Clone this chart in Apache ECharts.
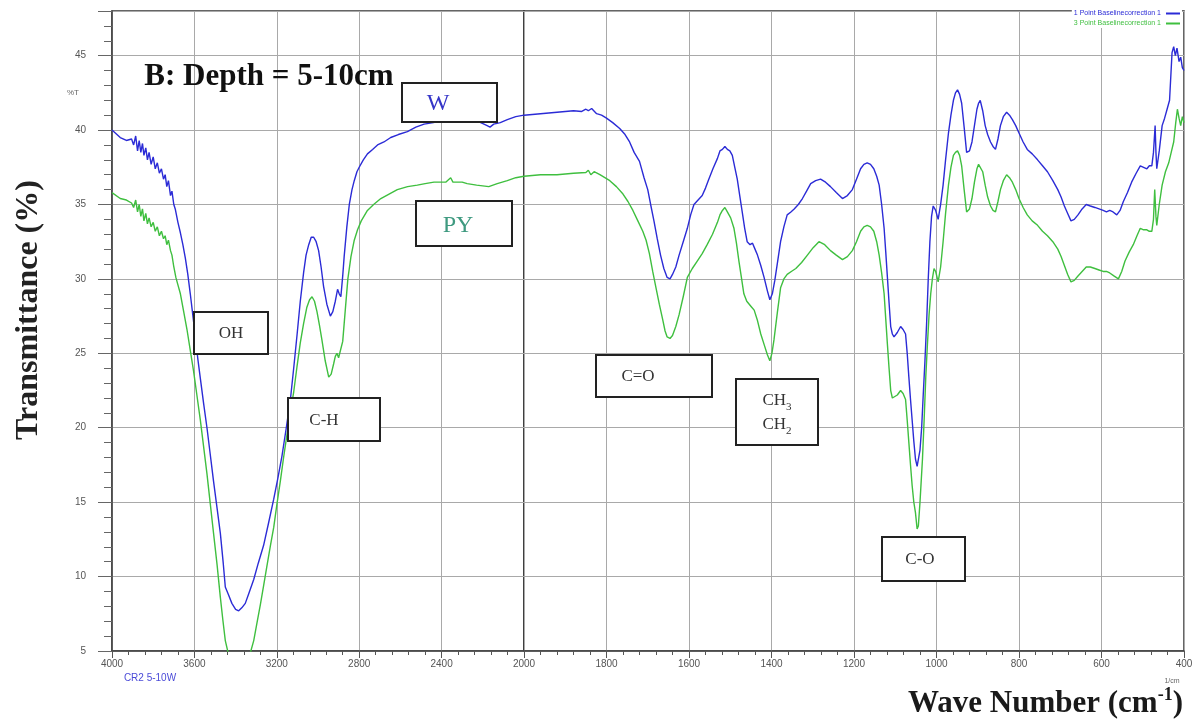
<!DOCTYPE html>
<html>
<head>
<meta charset="utf-8">
<script src="https://cdn.jsdelivr.net/npm/echarts@6/dist/echarts.min.js"></script>
<style>
html, body { margin: 0; padding: 0; background: #fff; }
#chart { width: 1192px; height: 723px; }
</style>
</head>
<body>
<div id="chart"></div>
<script>
// FTIR spectra, depth 5-10 cm: W (blue) and PY (green), transmittance in %.
// Wavenumbers in cm-1, listed from high to low.
const wWave = [4000,3960,3930,3905,3895,3885,3876,3868,3860,3852,3845,3836,3828,3820,3810,3800,3790,3780,3770,3760,3750,3742,3734,3726,3716,3709,3700,3693,3680,3668,3656,3644,3632,3620,3608,3596,3584,3571,3555,3539,3523,3507,3490,3474,3460,3450,3435,3418,3400,3385,3370,3353,3335,3312,3290,3264,3240,3215,3195,3175,3155,3134,3118,3102,3086,3070,3058,3045,3033,3021,3009,2997,2985,2973,2957,2940,2928,2916,2905,2897,2889,2880,2873,2860,2848,2835,2824,2811,2800,2780,2760,2735,2711,2680,2647,2610,2566,2525,2485,2440,2405,2360,2324,2280,2243,2210,2179,2165,2147,2115,2081,2040,2000,
  1960,1920,1880,1860,1850,1844,1836,1824,1812,1800,1785,1768,1755,1744,1733,1720,1709,1700,1693,1685,1677,1669,1661,1653,1646,1640,1632,1624,1614,1604,1596,1588,1578,1568,1560,1552,1542,1531,1525,1519,1513,1507,1501,1495,1489,1483,1477,1471,1465,1459,1452,1446,1440,1434,1426,1418,1410,1404,1398,1392,1385,1378,1370,1362,1353,1345,1335,1325,1315,1305,1293,1281,1269,1257,1243,1228,1216,1204,1194,1184,1176,1168,1160,1152,1145,1139,1133,1127,1123,1119,1115,1111,1107,1103,1095,1087,1081,1075,1071,1067,1063,1059,1055,1051,1047,1044,1040,1036,1032,1028,1024,1020,1016,1012,1008,1002,996,990,984,978,971,965,959,954,949,944,939,933,927,920,914,908,902,898,894,888,882,876,869,863,857,851,845,838,830,823,816,808,800,790,780,768,755,743,731,718,706,698,690,682,674,666,657,647,637,627,616,606,596,588,580,572,563,555,547,537,527,516,506,498,490,484,478,474,470,468,466,460,453,447,441,435,429,425,421,417,412,408,404,400];
const wT = [40.0,39.5,39.3,39.4,39.0,39.6,38.6,39.3,38.5,39.1,38.3,38.8,38.0,38.5,37.7,38.2,37.4,37.8,37.1,37.4,36.7,37.0,36.2,36.6,35.6,35.9,35.0,34.7,33.8,33.1,32.3,31.4,30.3,29.0,27.6,26.2,24.7,23.3,21.6,20.0,18.2,16.4,14.6,12.9,10.9,9.3,8.8,8.2,7.8,7.7,7.9,8.2,8.9,9.8,10.9,12.1,13.6,15.2,16.6,18.1,19.9,21.9,24.0,26.2,28.5,30.4,31.6,32.3,32.8,32.8,32.5,31.9,30.8,29.5,28.3,27.5,27.8,28.5,29.3,29.0,28.8,30.2,31.5,33.5,35.0,36.0,36.6,37.2,37.5,38.0,38.4,38.7,39.0,39.2,39.5,39.7,39.9,40.2,40.4,40.5,40.6,40.7,40.7,40.7,40.6,40.5,40.3,40.2,40.4,40.5,40.7,40.9,41.0,
  41.1,41.2,41.3,41.25,41.4,41.3,41.45,41.1,41.0,40.8,40.5,40.1,39.7,39.2,38.5,37.9,36.8,36.0,35.0,33.9,32.7,31.6,30.7,30.1,30.0,30.3,30.8,31.6,32.5,33.4,34.3,35.0,35.3,35.6,36.1,36.7,37.4,38.1,38.6,38.7,38.9,38.7,38.6,38.3,37.5,36.7,35.6,34.5,33.4,32.5,32.3,32.4,32.0,31.6,30.9,30.1,29.2,28.6,29.0,29.9,31.2,32.5,33.5,34.3,34.5,34.7,35.0,35.4,35.9,36.4,36.6,36.7,36.5,36.2,35.8,35.4,35.6,36.0,36.7,37.4,37.7,37.8,37.7,37.4,36.9,36.3,35.0,33.4,31.8,30.1,28.4,26.8,26.3,26.1,26.4,26.8,26.6,26.3,25.0,23.4,21.9,20.5,19.1,17.9,17.4,17.5,18.5,20.0,22.3,24.5,27.0,30.0,32.5,34.2,34.9,34.6,34.0,35.0,36.3,38.0,39.8,41.0,42.0,42.5,42.7,42.4,41.8,40.2,38.5,38.6,39.2,40.3,41.4,41.8,42.0,41.3,40.3,39.7,39.2,38.9,38.7,39.4,40.3,40.9,41.2,41.0,40.7,40.3,39.8,39.2,38.7,38.4,38.0,37.6,37.2,36.6,36.0,35.5,34.9,34.4,33.9,34.0,34.3,34.7,35.0,34.9,34.8,34.7,34.6,34.5,34.6,34.5,34.3,34.6,35.2,35.8,36.5,37.1,37.6,37.5,37.4,37.6,37.6,38.5,40.3,38.5,37.4,38.6,40.3,40.8,41.4,42.0,45.2,45.6,45.0,45.5,44.6,44.9,44.2,44.0];

const pyWave = [4000,3960,3930,3905,3895,3885,3876,3868,3860,3852,3845,3836,3828,3820,3810,3800,3790,3780,3770,3760,3750,3742,3734,3726,3716,3709,3701,3690,3680,3668,3652,3636,3620,3604,3588,3571,3555,3539,3523,3507,3490,3474,3462,3450,3430,3400,3380,3350,3330,3312,3296,3280,3264,3248,3232,3215,3199,3183,3167,3151,3135,3118,3102,3086,3070,3054,3041,3029,3017,3005,2993,2981,2965,2948,2936,2924,2916,2908,2900,2892,2880,2867,2855,2840,2824,2808,2790,2760,2730,2695,2655,2615,2565,2518,2480,2437,2380,2356,2345,2300,2276,2230,2171,2130,2081,2040,2000,
  1960,1920,1880,1850,1844,1838,1830,1816,1804,1792,1776,1760,1748,1736,1724,1712,1704,1696,1688,1680,1672,1664,1658,1653,1646,1640,1632,1624,1614,1604,1592,1580,1568,1556,1543,1531,1525,1519,1513,1507,1499,1491,1485,1479,1473,1467,1460,1454,1448,1442,1434,1426,1418,1410,1404,1399,1394,1386,1378,1370,1362,1352,1341,1327,1313,1299,1285,1271,1257,1243,1228,1216,1204,1194,1184,1176,1168,1160,1152,1145,1139,1133,1127,1123,1119,1115,1111,1107,1103,1095,1087,1081,1075,1071,1067,1063,1059,1055,1051,1047,1044,1040,1034,1030,1026,1022,1018,1014,1010,1006,1002,996,990,984,978,971,965,959,954,949,944,939,933,927,920,914,908,902,898,894,888,882,876,869,863,857,851,845,838,830,823,816,808,800,790,780,768,755,743,731,718,706,698,690,682,674,666,657,647,637,627,616,606,596,588,580,570,559,551,543,533,523,514,506,498,490,484,478,474,471,468,466,460,453,445,437,431,425,420,416,412,408,404,400];
const pyT = [35.8,35.4,35.3,35.1,34.8,35.3,34.5,35.0,34.2,34.7,33.9,34.4,33.7,34.1,33.5,33.8,33.2,33.5,32.9,33.2,32.7,32.9,32.3,32.6,31.9,31.6,30.9,30.1,29.6,29.0,27.8,26.6,25.2,23.8,22.2,20.5,18.7,16.9,14.9,12.9,10.8,8.6,7.1,5.7,4.5,3.5,3.3,3.8,4.8,5.7,6.9,8.1,9.4,10.7,12.0,13.3,14.9,16.4,18.0,19.5,21.0,22.4,24.1,25.7,27.0,28.1,28.6,28.8,28.5,27.8,26.9,25.9,24.5,23.4,23.6,24.3,24.8,25.0,24.7,24.6,25.8,28.0,30.0,31.5,32.6,33.3,33.9,34.6,35.0,35.4,35.7,36.0,36.2,36.3,36.4,36.5,36.5,36.8,36.5,36.5,36.4,36.3,36.2,36.4,36.6,36.8,36.9,
  37.0,37.0,37.1,37.15,37.3,37.0,37.2,37.0,36.8,36.6,36.2,35.7,35.2,34.6,33.9,33.2,32.6,31.7,30.5,29.4,28.3,27.3,26.5,26.1,26.0,26.2,26.8,27.6,28.8,30.1,30.7,31.2,31.7,32.3,33.0,33.8,34.3,34.6,34.8,34.5,34.1,33.4,32.4,31.2,30.1,29.0,28.5,28.3,28.1,27.9,27.2,26.3,25.6,24.9,24.5,25.0,25.9,27.7,29.4,30.0,30.3,30.5,30.7,31.1,31.6,32.1,32.5,32.3,31.9,31.6,31.3,31.5,31.9,32.5,33.2,33.5,33.6,33.5,33.2,32.5,31.6,30.4,29.0,27.3,25.6,24.0,22.5,22.0,21.9,22.2,22.5,22.3,21.9,20.5,19.0,17.5,16.1,15.0,14.3,13.2,13.4,15.0,17.9,20.5,23.4,25.6,27.6,29.0,30.0,30.7,30.5,29.8,30.8,32.5,34.4,36.3,37.5,38.3,38.5,38.6,38.3,37.6,36.0,34.5,34.7,35.4,36.5,37.4,37.7,37.8,37.2,36.3,35.5,34.9,34.6,34.5,35.2,36.0,36.6,37.0,36.8,36.5,36.0,35.4,34.8,34.3,33.9,33.6,33.2,32.9,32.5,32.0,31.5,30.9,30.3,29.8,29.9,30.2,30.5,30.8,30.8,30.7,30.6,30.5,30.5,30.4,30.2,30.0,30.5,31.2,31.8,32.3,32.9,33.4,33.3,33.3,33.2,33.2,34.0,36.0,34.2,33.6,35.0,36.3,37.2,37.8,38.5,39.2,40.5,41.4,40.8,40.3,40.9,40.5];

// Axis tick values: the spectrum is plotted on two scales, 4000-2000 and 2000-400 (expanded x2).
const xTicksHigh = [4000, 3600, 3200, 2800, 2400, 2000];
const xTicksLow = [2000, 1800, 1600, 1400, 1200, 1000, 800, 600, 400];
const yTicks = [5, 10, 15, 20, 25, 30, 35, 40, 45];
const yTop = 48;

const legendNames = { W: '1 Point Baselinecorrection 1', PY: '3 Point Baselinecorrection 1' };

const BLUE = '#2b2bd6';
const GREEN = '#3fbf3f';
const SERIF = '"Liberation Serif", "Times New Roman", serif';
const SANS = '"Liberation Sans", Arial, sans-serif';

function pairs(xs, ys, lo, hi) {
  const out = [];
  xs.forEach((x, i) => { if (x >= lo && x <= hi) out.push([x, ys[i]]); });
  return out;
}

const splitAt = xTicksLow[0];
const hiMin = xTicksHigh[xTicksHigh.length - 1], hiMax = xTicksHigh[0];
const loMin = xTicksLow[xTicksLow.length - 1], loMax = xTicksLow[0];

const gridBase = { top: 11, height: 640, show: true, backgroundColor: '#fff',
  borderColor: '#333', borderWidth: 1.5, containLabel: false, outerBoundsMode: 'none' };

function xAxisFor(grid, min, max, step, showMax) {
  return {
    gridIndex: grid, type: 'value', min: min, max: max, interval: step, inverse: true,
    axisLine: { show: true, onZero: false, lineStyle: { color: '#444', width: 1.5 } },
    axisTick: { show: true, length: 7, lineStyle: { color: '#555' } },
    minorTick: { show: true, splitNumber: 5, length: 4, lineStyle: { color: '#555' } },
    axisLabel: { margin: 8, fontSize: 10, color: '#555', fontFamily: SANS,
      showMinLabel: true, showMaxLabel: showMax, hideOverlap: false,
      formatter: v => String(v) },
    splitLine: { show: true, lineStyle: { color: '#a9a9a9', width: 1 } }
  };
}

function yAxisFor(grid, labelled) {
  return {
    gridIndex: grid, type: 'value', min: yTicks[0], max: yTop, interval: yTicks[1] - yTicks[0],
    axisLine: { show: labelled, lineStyle: { color: '#444', width: 1.5 } },
    axisTick: { show: labelled, length: 14, lineStyle: { color: '#666' } },
    minorTick: { show: labelled, splitNumber: 5, length: 8, lineStyle: { color: '#666' } },
    axisLabel: { show: labelled, margin: 26, fontSize: 10, color: '#555', fontFamily: SANS,
      showMaxLabel: false, showMinLabel: true, formatter: v => String(v) },
    splitLine: { show: true, lineStyle: { color: '#a9a9a9', width: 1 } }
  };
}

function line(name, grid, data, color, z) {
  return { name: name, type: 'line', xAxisIndex: grid, yAxisIndex: grid, data: data,
    showSymbol: false, symbol: 'none', clip: true, z: z,
    lineStyle: { color: color, width: 1.4 }, itemStyle: { color: color } };
}

function box(x, y, w, h) {
  return { type: 'rect', z: 50, shape: { x: x, y: y, width: w, height: h },
    style: { fill: '#fff', stroke: '#222', lineWidth: 2 } };
}
function label(x, y, text, font, color, extra) {
  return Object.assign({ type: 'text', z: 51, x: x, y: y,
    style: { text: text, font: font, fill: color, align: 'center', verticalAlign: 'middle',
      textAlign: 'center', textVerticalAlign: 'middle' } }, extra || {});
}

const chart = echarts.init(document.getElementById('chart'), null, { renderer: 'canvas' });
chart.setOption({
  animation: false,
  backgroundColor: '#fff',
  grid: [
    Object.assign({ left: 112, width: 412 }, gridBase),
    Object.assign({ left: 524, width: 660 }, gridBase)
  ],
  xAxis: [
    xAxisFor(0, hiMin, hiMax, xTicksHigh[0] - xTicksHigh[1], true),
    xAxisFor(1, loMin, loMax, xTicksLow[0] - xTicksLow[1], false)
  ],
  yAxis: [yAxisFor(0, true), yAxisFor(1, false)],
  legend: {
    data: [{ name: 'W', textStyle: { color: BLUE } }, { name: 'PY', textStyle: { color: GREEN } }],
    orient: 'vertical', right: 10, top: 9, itemGap: 3, itemWidth: 14, itemHeight: 2,
    icon: 'rect', align: 'right', padding: [1, 2], backgroundColor: '#fff',
    formatter: n => legendNames[n],
    textStyle: { fontSize: 7, fontFamily: SANS }
  },
  series: [
    line('PY', 0, pairs(pyWave, pyT, splitAt, hiMax), GREEN, 2),
    line('PY', 1, pairs(pyWave, pyT, loMin, splitAt), GREEN, 2),
    line('W', 0, pairs(wWave, wT, splitAt, hiMax), BLUE, 3),
    line('W', 1, pairs(wWave, wT, loMin, splitAt), BLUE, 3)
  ],
  graphic: [
    // titles
    label(269, 77, 'B: Depth = 5-10cm', 'bold 31px ' + SERIF, '#111'),
    label(29, 310, 'Transmittance (%)', 'bold 32px ' + SERIF, '#222', { rotation: Math.PI / 2 }),
    {
      type: 'text', z: 51, x: 1183, y: 704,
      style: {
        text: '{m|Wave Number (cm}{s|-1}{m|)}',
        align: 'right', verticalAlign: 'middle', textAlign: 'right', textVerticalAlign: 'middle',
        rich: {
          m: { fontSize: 31, fontWeight: 'bold', fontFamily: SERIF, fill: '#1a1a1a', lineHeight: 36 },
          s: { fontSize: 18, fontWeight: 'bold', fontFamily: SERIF, fill: '#1a1a1a', lineHeight: 20, verticalAlign: 'top' }
        }
      }
    },
    label(73, 93, '%T', '8px ' + SANS, '#666'),
    label(150, 678, 'CR2 5-10W', '10px ' + SANS, '#4a4ad8'),
    label(1172, 681, '1/cm', '7px ' + SANS, '#666'),
    // band annotations
    box(402, 83, 95, 39), label(438, 104, 'W', '24px ' + SERIF, '#3535c8'),
    box(416, 201, 96, 45), label(458, 226, 'PY', '24px ' + SERIF, '#3f9a80'),
    box(194, 312, 74, 42), label(231, 334, 'OH', '17px ' + SERIF, '#333'),
    box(288, 398, 92, 43), label(324, 421, 'C-H', '17px ' + SERIF, '#333'),
    box(596, 355, 116, 42), label(638, 377, 'C=O', '17px ' + SERIF, '#333'),
    box(736, 379, 82, 66),
    {
      type: 'text', z: 51, x: 777, y: 413,
      style: {
        text: 'CH{b|3}\nCH{b|2}',
        align: 'center', verticalAlign: 'middle', textAlign: 'center', textVerticalAlign: 'middle',
        font: '17px ' + SERIF, fill: '#333', lineHeight: 24,
        rich: { b: { fontSize: 11, fontFamily: SERIF, fill: '#333', verticalAlign: 'bottom', lineHeight: 18 } }
      }
    },
    box(882, 537, 83, 44), label(920, 560, 'C-O', '17px ' + SERIF, '#333')
  ]
});
</script>
</body>
</html>
